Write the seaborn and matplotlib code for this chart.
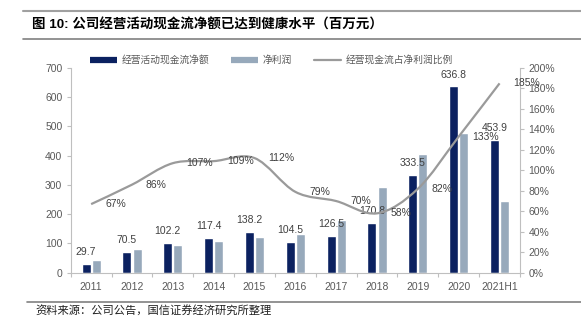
import numpy as np
import pandas as pd
import seaborn as sns
import matplotlib
matplotlib.use("Agg")
import matplotlib.pyplot as plt
from matplotlib.path import Path
from matplotlib.patches import PathPatch
from matplotlib.lines import Line2D

# ---- data ----
years = ['2011', '2012', '2013', '2014', '2015', '2016', '2017', '2018', '2019', '2020', '2021H1']
ocf = [29.7, 70.5, 102.2, 117.4, 138.2, 104.5, 126.5, 170.8, 333.5, 636.8, 453.9]
net_profit = [44, 82, 96, 108, 123, 132, 181, 294, 407, 479, 245]
ratio = [67, 86, 107, 109, 112, 79, 70, 58, 82, 133, 185]
series_names = ['经营活动现金流净额', '净利润', '经营现金流占净利润比例']
title_text = '图 10: 公司经营活动现金流净额已达到健康水平（百万元）'
source_text = '资料来源：公司公告，国信证券经济研究所整理'

NAVY = '#0b2160'
LIGHT = '#97a9bb'
LINEC = '#9a9a9a'
TICKC = '#595959'
LABC = '#404040'
SPINEC = '#bfbfbf'

sns.set_theme(style='white')
plt.rcParams['font.family'] = ['Liberation Sans', 'Noto Sans CJK SC', 'DejaVu Sans']

df = pd.DataFrame({
    'year': years * 2,
    'value': ocf + net_profit,
    'series': [series_names[0]] * len(years) + [series_names[1]] * len(years),
})

fig = plt.figure(figsize=(5.81, 3.22), dpi=100)
ax = fig.add_axes([70.7 / 581, 1 - 272.7 / 322, (520 - 70.7) / 581, (272.7 - 68) / 322])

sns.barplot(data=df, x='year', y='value', hue='series', hue_order=series_names[:2],
            palette=[NAVY, LIGHT], width=0.5, gap=0.12, legend=False, ax=ax,
            saturation=1)

ax.set_xlim(-0.5, len(years) - 0.5)
ax.set_ylim(0, 700)
ax.set_yticks(range(0, 701, 100))
ax.set_xlabel('')
ax.set_ylabel('')

# bar labels on dark bars
ax.bar_label(ax.containers[0], fmt='%.1f', padding=5, fontsize=7.5, color=LABC)

# axes styling
for s in ['top', 'right']:
    ax.spines[s].set_visible(False)
for s in ['left', 'bottom']:
    ax.spines[s].set_color(SPINEC)
    ax.spines[s].set_linewidth(0.8)
ax.tick_params(axis='y', direction='out', length=3, color=SPINEC, width=0.8,
               labelsize=7.5, labelcolor=TICKC, pad=3, left=True)
ax.tick_params(axis='x', which='major', length=0, labelsize=7.5, labelcolor=TICKC, pad=7)
ax.set_xticks(np.arange(-0.5, len(years), 1), minor=True)
ax.tick_params(axis='x', which='minor', direction='out', length=3, color=SPINEC,
               width=0.8, bottom=True)

# secondary axis with smoothed ratio line
ax2 = ax.twinx()
ax2.set_ylim(0, 200)
ax2.set_yticks(range(0, 201, 20))
ax2.set_yticklabels([f'{t}%' for t in range(0, 201, 20)])
for s in ['top', 'left', 'bottom']:
    ax2.spines[s].set_visible(False)
ax2.spines['right'].set_color(SPINEC)
ax2.spines['right'].set_linewidth(0.8)
ax2.tick_params(axis='y', direction='out', length=3, color=SPINEC, width=0.8,
                labelsize=7.5, labelcolor=TICKC, pad=3, right=True)
ax2.grid(False)
ax.grid(False)

pts = np.column_stack([np.arange(len(years), dtype=float), np.array(ratio, dtype=float)])
verts = [tuple(pts[0])]
codes = [Path.MOVETO]
n = len(pts)
for i in range(n - 1):
    p0 = pts[i - 1] if i > 0 else pts[i]
    p1 = pts[i]
    p2 = pts[i + 1]
    p3 = pts[i + 2] if i + 2 < n else pts[i + 1]
    c1 = p1 + (p2 - p0) / 6.0
    c2 = p2 - (p3 - p1) / 6.0
    verts += [tuple(c1), tuple(c2), tuple(p2)]
    codes += [Path.CURVE4] * 3
ax2.add_patch(PathPatch(Path(verts, codes), facecolor='none', edgecolor=LINEC, lw=1.6))

for i, r in enumerate(ratio):
    ax2.annotate(f'{r}%', (i, r), xytext=(10, 0), textcoords='offset points',
                 ha='left', va='center', fontsize=7.5, color=LABC)

# legend
handles = [Line2D([0], [0], color=NAVY, lw=4.5, solid_capstyle='butt'),
           Line2D([0], [0], color=LIGHT, lw=4.5, solid_capstyle='butt'),
           Line2D([0], [0], color=LINEC, lw=1.6)]
fig.legend(handles, series_names, loc='center', bbox_to_anchor=(0.467, 1 - 60 / 322),
           ncol=3, frameon=False, fontsize=7, handlelength=2.8, handletextpad=0.5,
           columnspacing=2.2, labelcolor=TICKC)

# title, rules and source
fig.add_artist(Line2D([23 / 581, 1], [1 - 11 / 322, 1 - 11 / 322], color='#a0a0a0', lw=1.5))
fig.add_artist(Line2D([23 / 581, 1], [1 - 39 / 322, 1 - 39 / 322], color='#808080', lw=1.2))
fig.text(32 / 581, 1 - 25 / 322, title_text, fontsize=9.7, fontweight='bold', color='black',
         ha='left', va='center')
fig.add_artist(Line2D([27 / 581, 1], [1 - 301.5 / 322, 1 - 301.5 / 322], color='#808080', lw=1.2))
fig.text(35 / 581, 1 - 311 / 322, source_text, fontsize=8.1, color='#202020',
         ha='left', va='center')

fig.savefig('out.png', dpi=100)
